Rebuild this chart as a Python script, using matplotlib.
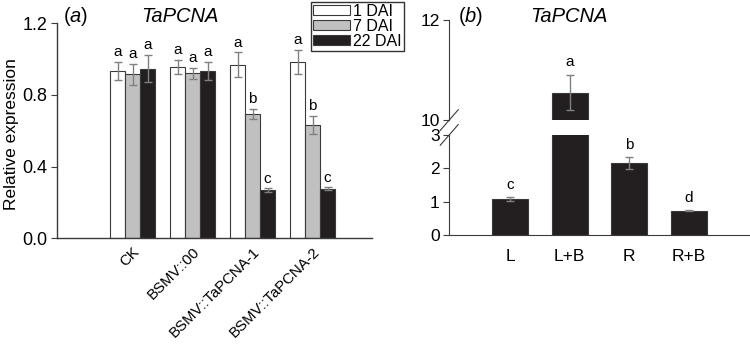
import matplotlib
matplotlib.use("Agg")
import matplotlib.pyplot as plt
import numpy as np
from matplotlib.lines import Line2D
import matplotlib.transforms as mtransforms

plt.rcParams['font.family'] = ['Liberation Sans', 'DejaVu Sans']
plt.rcParams['mathtext.fontset'] = 'custom'
plt.rcParams['mathtext.it'] = 'Liberation Sans:italic'
plt.rcParams['mathtext.rm'] = 'Liberation Sans'

# ---- Panel (a) data ----
groups_a = ["CK", "BSMV::00", "BSMV::TaPCNA-1", "BSMV::TaPCNA-2"]
series_a = ["1 DAI", "7 DAI", "22 DAI"]
vals_1dai = [0.936, 0.955, 0.968, 0.983]
vals_7dai = [0.916, 0.921, 0.694, 0.632]
vals_22dai = [0.947, 0.936, 0.268, 0.276]
err_1dai = [0.05, 0.04, 0.07, 0.068]
err_7dai = [0.06, 0.03, 0.03, 0.05]
err_22dai = [0.077, 0.05, 0.01, 0.008]
letters_1dai = ["a", "a", "a", "a"]
letters_7dai = ["a", "a", "b", "b"]
letters_22dai = ["a", "a", "c", "c"]

# ---- Panel (b) data ----
cats_b = ["L", "L+B", "R", "R+B"]
vals_b = [1.07, 10.55, 2.17, 0.73]
err_b = [0.06, 0.35, 0.18, 0.02]
letters_b = ["c", "a", "b", "d"]

fill_colors = ["white", "#c0c0c0", "#231f20"]
edge_color = "#3a3a3a"
err_color = "#808080"
spine_color = "#3a3a3a"

fig = plt.figure(figsize=(7.5, 3.45), dpi=100)

# ---------- Panel (a) ----------
axa = fig.add_axes([0.076, 0.310, 0.420, 0.622])
x = np.arange(len(groups_a))
w = 0.25
all_vals = [vals_1dai, vals_7dai, vals_22dai]
all_errs = [err_1dai, err_7dai, err_22dai]
all_lets = [letters_1dai, letters_7dai, letters_22dai]
handles = []
for i in range(3):
    pos = x + (i - 1) * w
    b = axa.bar(pos, all_vals[i], width=w, color=fill_colors[i],
                edgecolor=edge_color, linewidth=0.8, label=series_a[i], zorder=2)
    handles.append(b)
    axa.errorbar(pos, all_vals[i], yerr=all_errs[i], fmt='none', ecolor=err_color,
                 elinewidth=1, capsize=3, capthick=1, zorder=3)
    for p, v, e, l in zip(pos, all_vals[i], all_errs[i], all_lets[i]):
        axa.text(p, v + e + 0.015, l, ha='center', va='bottom', fontsize=11)

axa.set_xlim(-1.26, 3.99)
axa.set_ylim(0, 1.2)
axa.set_yticks([0.0, 0.4, 0.8, 1.2])
axa.set_yticklabels(["0.0", "0.4", "0.8", "1.2"], fontsize=13)
axa.set_xticks(x)
axa.set_xticklabels(groups_a, rotation=45, ha='right', rotation_mode='anchor', fontsize=10.8)
offset = mtransforms.ScaledTranslation(7 / 100, 0, fig.dpi_scale_trans)
for lab in axa.get_xticklabels():
    lab.set_transform(lab.get_transform() + offset)
axa.tick_params(axis='x', length=0, pad=5)
axa.tick_params(axis='y', direction='out', length=4, color=spine_color, pad=3)
for s in ['top', 'right']:
    axa.spines[s].set_visible(False)
for s in ['left', 'bottom']:
    axa.spines[s].set_color(spine_color)
    axa.spines[s].set_linewidth(1)
fig.text(11.5 / 750, 1 - 134 / 345, "Relative expression", fontsize=12.5,
         rotation=90, va='center', ha='center')
fig.text(0.084, 0.952, "($a$)", fontsize=14.5, va='center', ha='left')
fig.text(0.240, 0.952, "TaPCNA", fontsize=14.5, style='italic', va='center', ha='center')

fig.legend(handles=handles, labels=series_a, loc='upper left',
           bbox_to_anchor=(0.415, 0.995), fontsize=11.5, frameon=True, fancybox=False,
           edgecolor='black', handlelength=2.3, handleheight=0.55, labelspacing=0.0,
           borderpad=0.12, handletextpad=0.2, borderaxespad=0.0)

# ---------- Panel (b) ----------
axl = fig.add_axes([0.599, 0.319, 0.400, 0.290])
axu = fig.add_axes([0.599, 0.652, 0.400, 0.290])
xb = np.arange(len(cats_b))
wb = 0.6
for ax in (axl, axu):
    ax.bar(xb, vals_b, width=wb, color="#231f20", edgecolor=edge_color, linewidth=0.8, zorder=2)
    ax.errorbar(xb, vals_b, yerr=err_b, fmt='none', ecolor=err_color, elinewidth=1,
                capsize=3, capthick=1, zorder=3)
    ax.set_xlim(-1.017, 4.01)
    for s in ['top', 'right']:
        ax.spines[s].set_visible(False)
    ax.spines['left'].set_color(spine_color)
    ax.tick_params(axis='y', direction='out', length=4, color=spine_color, labelsize=12.5, pad=3)

axl.set_ylim(0, 3)
axl.set_yticks([0, 1, 2, 3])
axl.set_xticks(xb)
axl.set_xticklabels(cats_b, fontsize=12.5)
axl.tick_params(axis='x', length=0, pad=10)
axl.spines['bottom'].set_color(spine_color)

axu.set_ylim(10, 12)
axu.set_yticks([10, 12])
axu.set_xticks([])
axu.spines['bottom'].set_visible(False)

for i in range(len(cats_b)):
    top = vals_b[i] + err_b[i]
    if top > 3:
        axu.text(xb[i], top + 0.12, letters_b[i], ha='center', va='bottom', fontsize=11)
    else:
        axl.text(xb[i], top + 0.15, letters_b[i], ha='center', va='bottom', fontsize=11)

# break marks
d = 0.012
for yb in (0.652, 0.609):
    fig.add_artist(Line2D([0.599 - d, 0.599 + d], [yb - 0.03, yb + 0.03],
                          color=spine_color, linewidth=0.8))

fig.text(0.610, 0.952, "($b$)", fontsize=14.5, va='center', ha='left')
fig.text(0.759, 0.952, "TaPCNA", fontsize=14.5, style='italic', va='center', ha='center')

fig.savefig("out.png", dpi=100)
